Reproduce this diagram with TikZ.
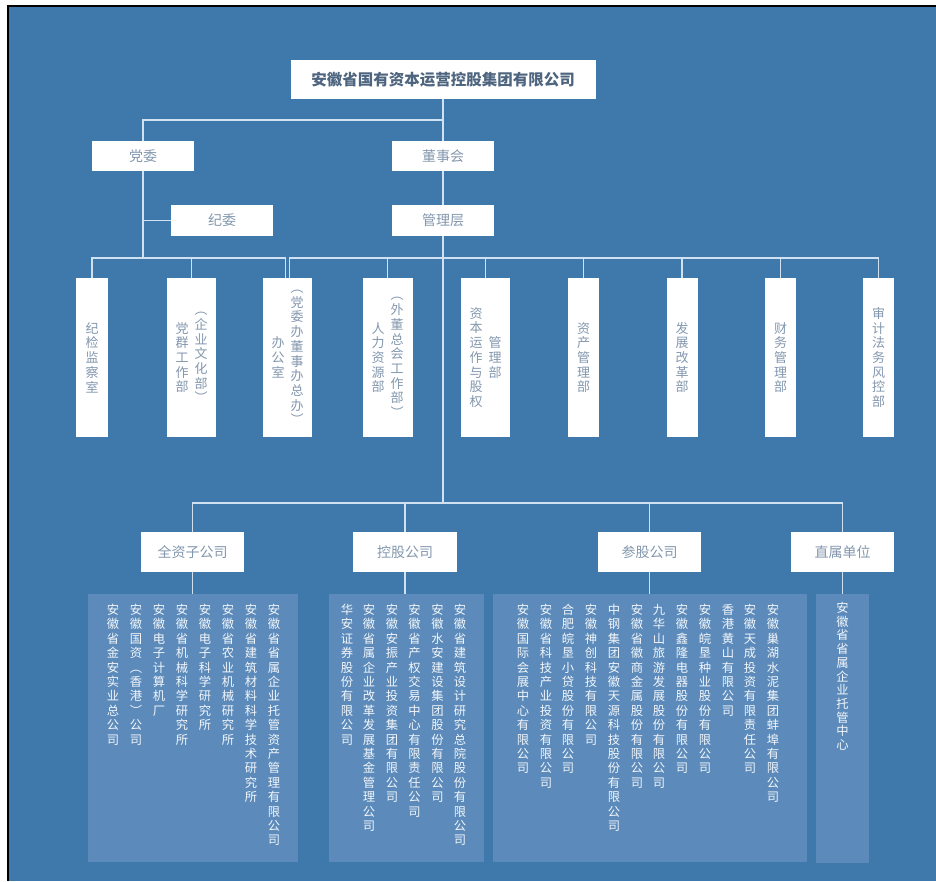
\documentclass[tikz,border=0pt]{standalone}
\usepackage{fontspec}
\setmainfont{Noto Sans CJK SC}
\usetikzlibrary{calc}
\definecolor{bg}{HTML}{3F78AB}
\definecolor{panelc}{HTML}{5C8BBB}
\definecolor{lnc}{HTML}{D0E2F2}
\definecolor{boxtxt}{HTML}{8397AE}
\definecolor{titletxt}{HTML}{4E6580}
\definecolor{ptxt}{HTML}{F2F6FA}
\def\vtextaux#1{\ifx\relax#1\else\hbox to 1em{\hss#1\hss}\expandafter\vtextaux\fi}
\newcommand\vtxt[2][14.4pt]{\vbox{\baselineskip=#1\lineskiplimit=-20pt\lineskip=0pt\vtextaux#2\relax}}
\newcommand\vcol[2][14.7pt]{$\vcenter{\baselineskip=#1\lineskiplimit=-20pt\lineskip=0pt\vtextaux#2\relax}$}
\tikzset{
  conn/.style={draw=lnc, line width=1.3pt},
  wbox/.style={fill=white, draw=none, text=boxtxt, inner sep=0pt, font=\fontsize{14}{16}\selectfont},
  dept/.style={wbox, minimum height=159pt, font=\fontsize{13}{15}\selectfont},
  catbox/.style={wbox, minimum width=103pt, minimum height=40pt},
  panelbox/.style={fill=panelc, draw=none, inner sep=0pt, minimum height=268pt},
  pcol/.style={text=ptxt, inner sep=0pt, anchor=north, font=\fontsize{12.3}{14}\selectfont}
}
\begin{document}
\begin{tikzpicture}[x=1pt,y=-1pt]
\useasboundingbox (0,0) rectangle (936,881);
\fill[white] (0,0) rectangle (936,881);
\fill[bg] (9,7) rectangle (936,881);
\draw[black, line width=2pt] (8,881) -- (8,6) -- (936,6);

% top levels
\node[wbox, minimum width=305pt, minimum height=39pt, text=titletxt, font=\fontsize{15.5}{18}\selectfont\bfseries] (top) at (443,79.5) {安徽省国有资本运营控股集团有限公司};
\node[wbox, minimum width=102pt, minimum height=30pt] (dw) at (143,156) {党委};
\node[wbox, minimum width=102pt, minimum height=30pt] (dsh) at (443,156) {董事会};
\node[wbox, minimum width=102pt, minimum height=31pt] (jw) at (222,220.5) {纪委};
\node[wbox, minimum width=102pt, minimum height=31pt] (mg) at (443,220.5) {管理层};

% departments
\node[dept, minimum width=32pt] (d1) at (92,357.5) {\vcol{纪检监察室}};
\node[dept, minimum width=49pt] (d2) at (191.5,357.5) {\vcol{党群工作部}\hspace{6pt}\vcol{︵企业文化部︶}};
\node[dept, minimum width=49pt] (d3) at (287.5,357.5) {\vcol{办公室}\hspace{6pt}\vcol{︵党委办董事办总办︶}};
\node[dept, minimum width=50pt] (d4) at (387.5,357.5) {\vcol{人力资源部}\hspace{6pt}\vcol{︵外董总会工作部︶}};
\node[dept, minimum width=49pt] (d5) at (485.5,357.5) {\vcol{资本运作与股权}\hspace{6pt}\vcol{管理部}};
\node[dept, minimum width=31pt] (d6) at (583.5,357.5) {\vcol{资产管理部}};
\node[dept, minimum width=31pt] (d7) at (682,357.5) {\vcol{发展改革部}};
\node[dept, minimum width=31pt] (d8) at (780.5,357.5) {\vcol{财务管理部}};
\node[dept, minimum width=31pt] (d9) at (878.5,357.5) {\vcol{审计法务风控部}};

% categories
\node[catbox] (c1) at (192.5,552) {全资子公司};
\node[catbox, minimum width=104pt] (c2) at (405,552) {控股公司};
\node[catbox] (c3) at (649.5,552) {参股公司};
\node[catbox] (c4) at (842.5,552) {直属单位};

% panels
\node[panelbox, minimum width=210pt] (p1) at (193,728) {};
\node[panelbox, minimum width=155pt] (p2) at (406.5,728) {};
\node[panelbox, minimum width=314pt] (p3) at (650,728) {};
\node[panelbox, minimum width=53pt, minimum height=269pt] (p4) at (842.5,728.5) {};

% panel 1 columns (right to left)
\node[pcol] (p1a) at (274,604) {\vtxt{安徽省省属企业托管资产管理有限公司}};
\node[pcol] (p1b) at (251,604) {\vtxt{安徽省建筑材料科学技术研究所}};
\node[pcol] (p1c) at (228,604) {\vtxt{安徽省农业机械研究所}};
\node[pcol] (p1d) at (205,604) {\vtxt{安徽电子科学研究所}};
\node[pcol] (p1e) at (182,604) {\vtxt{安徽省机械科学研究所}};
\node[pcol] (p1f) at (159,604) {\vtxt{安徽电子计算机厂}};
\node[pcol] (p1g) at (136,604) {\vtxt{安徽国资︵香港︶公司}};
\node[pcol] (p1h) at (113,604) {\vtxt{安徽省金安实业总公司}};

% panel 2
\node[pcol] (p2a) at (460,604) {\vtxt{安徽省建筑设计研究总院股份有限公司}};
\node[pcol] (p2b) at (437.5,604) {\vtxt{安徽水安建设集团股份有限公司}};
\node[pcol] (p2c) at (414.5,604) {\vtxt{安徽省产权交易中心有限责任公司}};
\node[pcol] (p2d) at (392,604) {\vtxt{安徽安振产业投资集团有限公司}};
\node[pcol] (p2e) at (369,604) {\vtxt{安徽省属企业改革发展基金管理公司}};
\node[pcol] (p2f) at (347,604) {\vtxt{华安证券股份有限公司}};

% panel 3
\node[pcol] (p3a) at (773,604) {\vtxt{安徽巢湖水泥集团蚌埠有限公司}};
\node[pcol] (p3b) at (750,604) {\vtxt{安徽天成投资有限责任公司}};
\node[pcol] (p3c) at (728,604) {\vtxt{香港黄山有限公司}};
\node[pcol] (p3d) at (705,604) {\vtxt{安徽皖垦种业股份有限公司}};
\node[pcol] (p3e) at (682,604) {\vtxt{安徽鑫隆电器股份有限公司}};
\node[pcol] (p3f) at (659,604) {\vtxt{九华山旅游发展股份有限公司}};
\node[pcol] (p3g) at (637,604) {\vtxt{安徽省徽商金属股份有限公司}};
\node[pcol] (p3h) at (614,604) {\vtxt{中钢集团安徽天源科技股份有限公司}};
\node[pcol] (p3i) at (591,604) {\vtxt{安徽神创科技有限公司}};
\node[pcol] (p3j) at (568,604) {\vtxt{合肥皖垦小贷股份有限公司}};
\node[pcol] (p3k) at (546,604) {\vtxt{安徽省科技产业投资有限公司}};
\node[pcol] (p3l) at (523,604) {\vtxt{安徽国际会展中心有限公司}};

% panel 4
\node[pcol] (p4a) at (842.5,602) {\vtxt[13.7pt]{安徽省省属企业托管中心}};

% connectors
\coordinate (yA) at (0,120);
\coordinate (yL) at (0,258);
\coordinate (yB) at (0,503);
\draw[conn] (top.south) -- (dsh.north);
\draw[conn] (dw.north) |- (dsh.north |- yA);
\draw[conn] (dsh.south) -- (mg.north);
\draw[conn] (mg.south) -- (mg.south |- yB);
\draw[conn] (dw.south) -- (dw.south |- yL);
\draw[conn] (jw.west) -- (jw.west -| dw.south);
\draw[conn] (d1.north) |- ([xshift=-2pt]d3.north |- yL) -- ([xshift=-2pt]d3.north);
\draw[conn] (d2.north) -- (d2.north |- yL);
\draw[conn] ([xshift=2pt]d3.north) |- (d9.north |- yL) -- (d9.north);
\foreach \n in {d4,d5,d6,d7,d8} \draw[conn] (\n.north) -- (\n.north |- yL);
\draw[conn] (c1.north) |- (c4.north |- yB) -- (c4.north);
\draw[conn] (c2.north) -- (c2.north |- yB);
\draw[conn] (c3.north) -- (c3.north |- yB);
\draw[conn] (c1.south) -- (c1.south |- p1.north);
\draw[conn] (c2.south) -- (c2.south |- p2.north);
\draw[conn] (c3.south) -- (c3.south |- p3.north);
\draw[conn] (c4.south) -- (c4.south |- p4.north);
\end{tikzpicture}
\end{document}
